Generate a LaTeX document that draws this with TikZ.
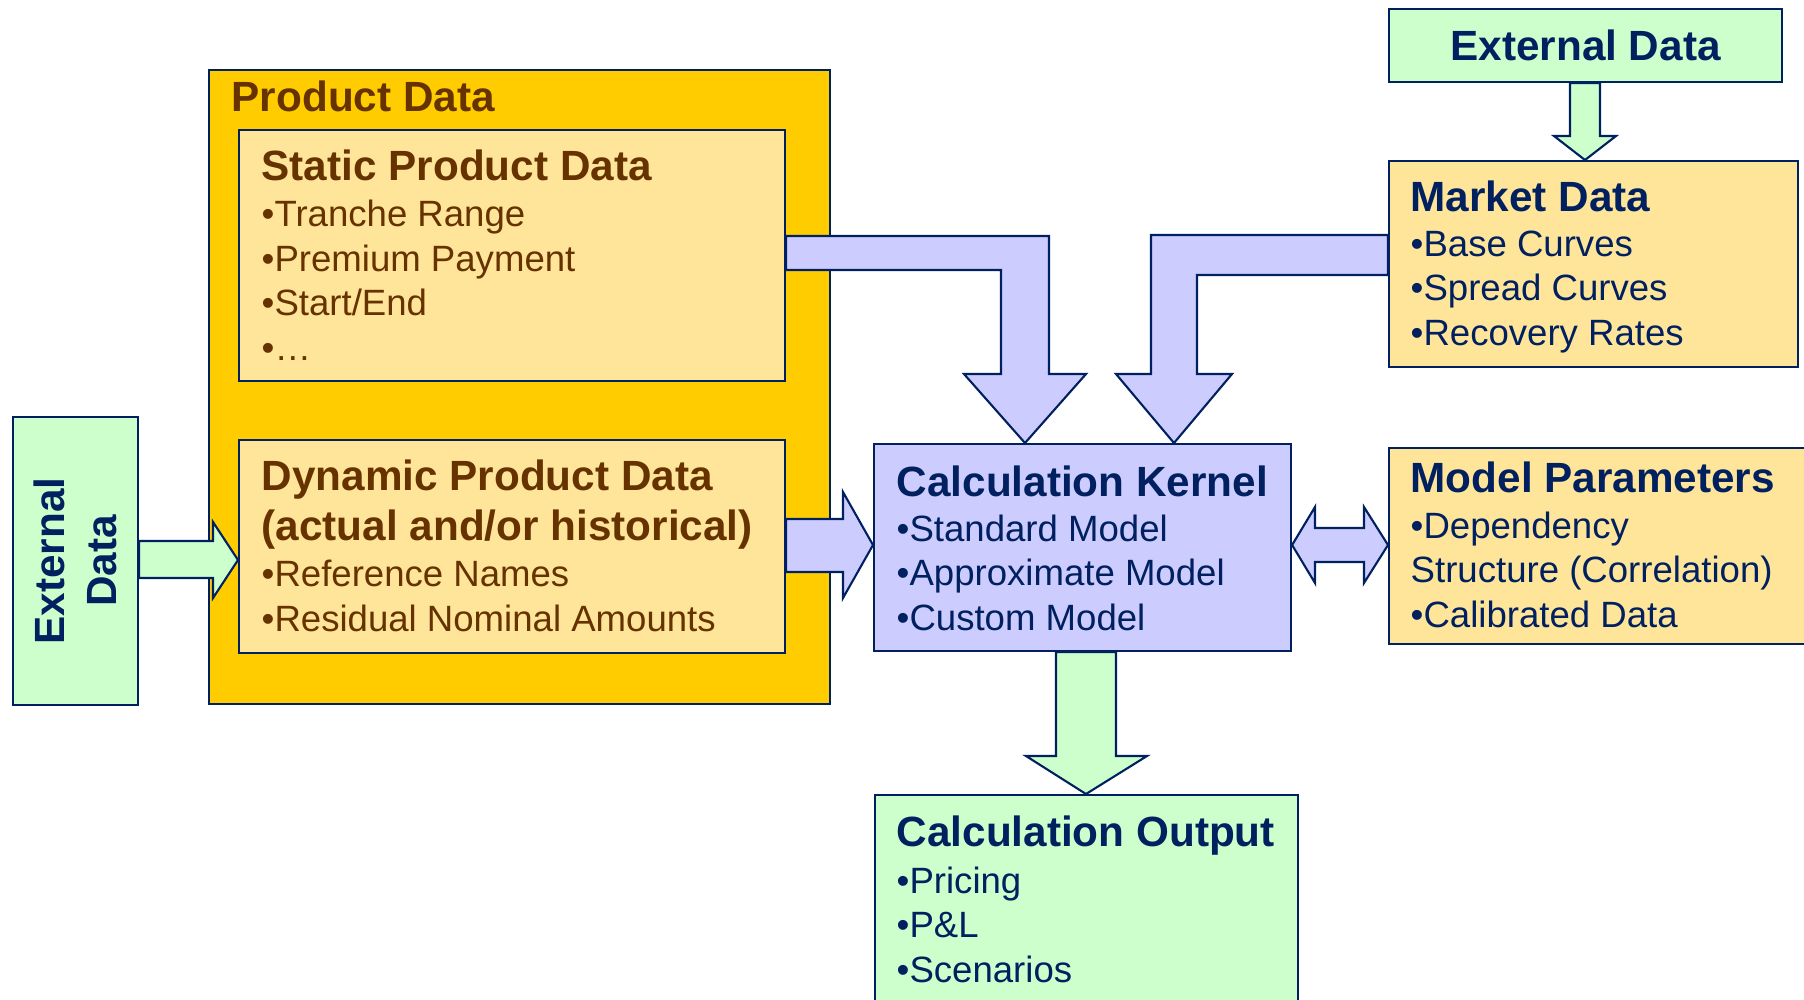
\documentclass[tikz,border=0pt]{standalone}
\usepackage{fontspec}
\setmainfont{Liberation Sans}
\definecolor{navy}{RGB}{0,32,96}
\definecolor{brownt}{RGB}{102,51,0}
\definecolor{gold}{RGB}{255,204,0}
\definecolor{paleorange}{RGB}{255,229,153}
\definecolor{palegreen}{RGB}{204,255,204}
\definecolor{lavender}{RGB}{204,204,255}
\newcommand{\boxtitle}[1]{{\bfseries\fontsize{12.03pt}{12.66pt}\selectfont #1}}

\begin{document}
\begin{tikzpicture}[x=0.1mm,y=-0.1mm,
  box/.style={draw=navy,line width=0.6pt,anchor=north west,inner sep=0pt},
  blockarrow/.style={draw=navy,line width=0.6pt,line join=miter},
  boxtext/.style={anchor=base west,inner sep=0pt,align=left,
    font=\fontsize{10.41pt}{12.66pt}\selectfont}]
\useasboundingbox (0,0) rectangle (1804,1000);
\clip (0,0) rectangle (1804,1000);

\node[box,fill=gold,minimum width=62.1mm,minimum height=63.4mm] (product) at (208,69) {};
\node[box,fill=paleorange,minimum width=54.6mm,minimum height=25.1mm] (static) at (238,129) {};
\node[box,fill=paleorange,minimum width=54.6mm,minimum height=21.3mm] (dynamic) at (238,439) {};
\node[box,fill=palegreen,minimum width=12.5mm,minimum height=28.8mm] (extleft) at (12,416) {};
\node[rotate=90,align=center,text=navy,font=\bfseries\fontsize{12.03pt}{14.8pt}\selectfont] (extlefttxt) at (extleft.center) {External\\Data};
\node[box,fill=lavender,minimum width=41.7mm,minimum height=20.7mm] (kernel) at (873,443) {};
\node[box,fill=palegreen,minimum width=42.3mm,minimum height=22.6mm] (output) at (874,794) {};
\node[box,fill=paleorange,minimum width=40.9mm,minimum height=20.6mm] (market) at (1388,160) {};
\node[box,fill=paleorange,minimum width=42.7mm,minimum height=19.6mm] (model) at (1388,447) {};
\node[box,fill=palegreen,minimum width=39.3mm,minimum height=7.3mm,text=navy,font=\bfseries\fontsize{12.03pt}{14pt}\selectfont] (exttop) at (1388,8) {External Data};

\draw[blockarrow,fill=palegreen] (extleft.east |- 0,541) -- (213,541) -- (213,522) -- (dynamic.west |- 0,560)
  -- (213,598) -- (213,578) -- (extleft.east |- 0,578) -- cycle;
\draw[blockarrow,fill=lavender] (static.east |- 0,236) -- (1049,236) -- (1049,374) -- (1086,374) -- (kernel.north -| 1025,0)
  -- (964,374) -- (1001,374) -- (1001,270) -- (static.east |- 0,270) -- cycle;
\draw[blockarrow,fill=lavender] (market.west |- 0,235) -- (1151,235) -- (1151,374) -- (1116,374) -- (kernel.north -| 1174,0)
  -- (1232,374) -- (1197,374) -- (1197,275) -- (market.west |- 0,275) -- cycle;
\draw[blockarrow,fill=lavender] (dynamic.east |- 0,519) -- (843,519) -- (843,492) -- (kernel.west |- 0,545)
  -- (843,598) -- (843,572) -- (dynamic.east |- 0,572) -- cycle;
\draw[blockarrow,fill=lavender] (kernel.east |- 0,545) -- (1315,507) -- (1315,528) -- (1364,528) -- (1364,507)
  -- (model.west |- 0,545) -- (1364,583) -- (1364,562) -- (1315,562) -- (1315,583) -- cycle;
\draw[blockarrow,fill=palegreen] (kernel.south -| 1056,0) -- (1056,756) -- (1026,756) -- (output.north -| 1086,0)
  -- (1147,756) -- (1116,756) -- (kernel.south -| 1116,0) -- cycle;
\draw[blockarrow,fill=palegreen] (exttop.south -| 1570,0) -- (1570,136) -- (1554,136) -- (market.north -| 1585,0)
  -- (1616,136) -- (1600,136) -- (exttop.south -| 1600,0) -- cycle;

\node[boxtext,text=brownt] (producttxt) at (231,111) {\boxtitle{Product Data}};
\node[boxtext,text=brownt] (statictxt) at (261,360) {\boxtitle{Static Product Data}\\[0.15mm]
  •Tranche Range\\ •Premium Payment\\ •Start/End\\ •…};
\node[boxtext,text=brownt] (dynamictxt) at (261,631) {\boxtitle{Dynamic Product Data}\\[0.55mm]
  \boxtitle{(actual and/or historical)}\\[0.15mm] •Reference Names\\ •Residual Nominal Amounts};
\node[boxtext,text=navy] (kerneltxt) at (896,630) {\boxtitle{Calculation Kernel}\\[0.05mm]
  •Standard Model\\ •Approximate Model\\ •Custom Model};
\node[boxtext,text=navy] (markettxt) at (1410,345) {\boxtitle{Market Data}\\[0.05mm]
  •Base Curves\\ •Spread Curves\\ •Recovery Rates};
\node[boxtext,text=navy] (modeltxt) at (1410,627) {\boxtitle{Model Parameters}\\[0.15mm]
  •Dependency\\ Structure (Correlation)\\ •Calibrated Data};
\node[boxtext,text=navy] (outputtxt) at (896,982) {\boxtitle{Calculation Output}\\[0.25mm]
  •Pricing\\ •P\&L\\ •Scenarios};
\end{tikzpicture}
\end{document}
